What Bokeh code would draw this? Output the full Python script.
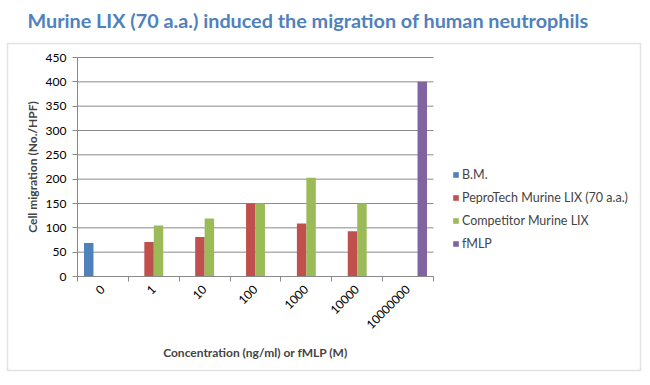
import math
from bokeh.plotting import figure
from bokeh.models import (ColumnDataSource, FixedTicker, Legend, LegendItem, Label,
                          BoxAnnotation, Range1d)
from bokeh.transform import dodge
from bokeh.embed import file_html
from bokeh.resources import INLINE

categories = ["0", "1", "10", "100", "1000", "10000", "10000000"]
bm = [69, None, None, None, None, None, None]
peprotech = [None, 71, 81, 150, 109, 93, None]
competitor = [None, 105, 119, 150, 203, 150, None]
fmlp = [None, None, None, None, None, None, 400]
series_names = ["B.M.", "PeproTech Murine LIX (70 a.a.)", "Competitor Murine LIX", "fMLP"]
colors = ["#4F81BD", "#C0504D", "#9BBB59", "#8064A2"]
y_ticks = [0, 50, 100, 150, 200, 250, 300, 350, 400, 450]
title_text = "Murine LIX (70 a.a.) induced the migration of human neutrophils"

nan = float("nan")
def clean(v):
    return [nan if a is None else a for a in v]

n_cat = len(categories)
y_max = y_ticks[-1]
centers = [i + 0.5 for i in range(n_cat)]
src = ColumnDataSource(dict(x=centers, bm=clean(bm), pep=clean(peprotech),
                            comp=clean(competitor), fmlp=clean(fmlp)))
grid_src = ColumnDataSource(dict(y=y_ticks, x0=[0] * len(y_ticks), x1=[n_cat] * len(y_ticks)))

FONT = "Lato"
GRID = "#8A8A8A"

# canvas layout (pixels): the whole canvas is the frame; plot area inside it
W, H = 645, 380
PL, PR, PT, PB = 77, 433, 57, 276          # plot-area edges in canvas px
xs = (PR - PL) / n_cat
ys = (PB - PT) / y_max
x_range = Range1d(-PL / xs, (W - PL) / xs)
y_range = Range1d(-(H - PB) / ys, y_max + PT / ys)

p = figure(width=W, height=H, output_backend="svg", toolbar_location=None,
           x_range=x_range, y_range=y_range,
           min_border_left=0, min_border_right=0, min_border_top=0, min_border_bottom=0)
p.title.visible = False
p.outline_line_color = None
p.xgrid.visible = False
p.ygrid.visible = False

p.segment(x0="x0", x1="x1", y0="y", y1="y", source=grid_src, line_color=GRID, line_width=1)

bw = 0.186
offs = [-1.5 * bw, -0.5 * bw, 0.5 * bw, 1.5 * bw]
fields = ["bm", "pep", "comp", "fmlp"]
renderers = []
for f, o, c in zip(fields, offs, colors):
    r = p.vbar(x=dodge("x", o), top=f, width=bw, source=src, fill_color=c, line_color=None)
    renderers.append(r)

xa = p.xaxis[0]
xa.fixed_location = 0
xa.bounds = (0, n_cat)
xa.ticker = FixedTicker(ticks=centers, minor_ticks=list(range(n_cat + 1)))
xa.major_label_overrides = {c: lab for c, lab in zip(centers, categories)}
xa.major_tick_line_color = None
xa.minor_tick_line_color = GRID
xa.minor_tick_out = 5
xa.minor_tick_in = 0
xa.axis_line_color = GRID
xa.major_label_orientation = math.pi / 4
xa.major_label_text_font = FONT
xa.major_label_text_font_size = "12px"
xa.major_label_text_color = "#000000"
xa.major_label_standoff = 5
xa.axis_label = "Concentration (ng/ml) or fMLP (M)"
xa.axis_label_text_font = FONT
xa.axis_label_text_font_style = "bold"
xa.axis_label_text_font_size = "12px"
xa.axis_label_standoff = 9

ya = p.yaxis[0]
ya.fixed_location = 0
ya.bounds = (0, y_max)
ya.ticker = FixedTicker(ticks=y_ticks)
ya.minor_tick_line_color = None
ya.major_tick_line_color = GRID
ya.major_tick_out = 5
ya.major_tick_in = 0
ya.axis_line_color = GRID
ya.major_label_text_font = FONT
ya.major_label_text_font_size = "12px"
ya.major_label_text_color = "#000000"
ya.major_label_standoff = 6
ya.axis_label = "Cell migration (No./HPF)"
ya.axis_label_text_font = FONT
ya.axis_label_text_font_style = "bold"
ya.axis_label_text_font_size = "12px"
ya.axis_label_standoff = 3

legend = Legend(items=[LegendItem(label=n, renderers=[r]) for n, r in zip(series_names, renderers)],
                location=(452, 129), glyph_width=7, glyph_height=7, label_height=16,
                spacing=7, padding=0, margin=0, border_line_color=None,
                background_fill_alpha=0, label_text_font=FONT, label_text_font_size="12.5px",
                label_standoff=3)
p.add_layout(legend)

title = Label(x=27, y=H - 19, x_units="screen", y_units="screen", text=title_text,
              text_font=FONT, text_font_style="bold", text_font_size="19.8px",
              text_color="#4F81BD", text_baseline="middle", text_align="left")
p.add_layout(title)

box = BoxAnnotation(left=7, right=640, top=H - 43, bottom=H - 370,
                    left_units="screen", right_units="screen", top_units="screen", bottom_units="screen",
                    fill_alpha=0, line_color="#A0A0A0", line_width=1.5, level="underlay")
p.add_layout(box)

open("out.html", "w").write(file_html(p, INLINE))
